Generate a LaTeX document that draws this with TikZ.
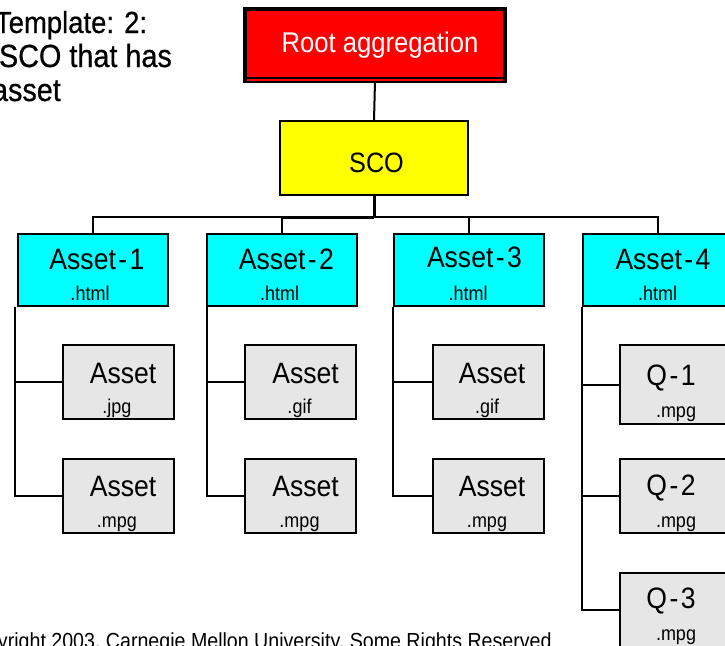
\documentclass[tikz,border=0pt]{standalone}
\usepackage{fontspec}
\setmainfont{Liberation Sans}[FakeStretch=0.9]
\newfontfamily\titlefam{Liberation Sans}[FakeStretch=0.9,FakeBold=0.6]
\newcommand\myfs[1]{\fontsize{#1pt}{#1pt}\selectfont}
\definecolor{boxgrey}{HTML}{E6E6E6}
\definecolor{boxcyan}{HTML}{00FFFF}
\definecolor{boxyellow}{HTML}{FFFF00}
\definecolor{boxred}{HTML}{FF0000}
\begin{document}
\begin{tikzpicture}[x=1pt,y=-1pt,line width=2pt,
  boxbase/.style={draw=black,line width=2pt,inner sep=0pt,outer sep=0pt},
  rootbox/.style={boxbase,fill=boxred,line width=4pt,minimum width=260pt,minimum height=72pt},
  scobox/.style={boxbase,fill=boxyellow,minimum width=188pt,minimum height=74pt},
  assetbox/.style={boxbase,fill=boxcyan,minimum width=150pt,minimum height=72pt},
  childbox/.style={boxbase,fill=boxgrey,minimum width=111pt,minimum height=74pt},
  lbl/.style={inner sep=0pt,outer sep=0pt,anchor=base},
  big/.style={lbl,font=\myfs{29.5}},
  small/.style={lbl,font=\myfs{20}},
  title/.style={inner sep=0pt,outer sep=0pt,anchor=base west,font=\titlefam\myfs{32}},
  conn/.style={line width=2pt},
  thickconn/.style={line width=3pt}]
\useasboundingbox (0,0) rectangle (725,645);
\clip (0,0) rectangle (725,645);

% title
\node[title,font=\titlefam\myfs{30.5}] (t1) at (-5,33) {Template: 2:};
\node[title] (t2) at (-1,67) {SCO that has};
\node[title] (t3) at (-8,101) {asset};

% root
\node[rootbox] (root) at (375,45) {};
\draw[line width=2pt] ([xshift=2pt,yshift=3pt]root.south west) -- ([xshift=-2pt,yshift=3pt]root.south east);
\draw[boxred,line width=1.8pt] ([xshift=2pt,yshift=0.7pt]root.south west) -- ([xshift=-2pt,yshift=0.7pt]root.south east);
\node[lbl,white,font=\myfs{28.5}] (roott) at (380,52) {Root aggregation};

% SCO
\node[scobox] (sco) at (374,158) {};
\node[lbl,font=\myfs{28}] (scot) at (376.5,172) {SCO};

% assets
\node[assetbox] (a1) at (93,270) {};
\node[assetbox] (a2) at (281.5,270) {};
\node[assetbox] (a3) at (469,270) {};
\node[assetbox] (a4) at (658,270) {};
\node[big] (a1t) at (97,269) {Asset\kern2.5pt-\kern2.5pt1};
\node[big] (a2t) at (286.5,269) {Asset\kern2.5pt-\kern2.5pt2};
\node[big] (a3t) at (474.5,267) {Asset\kern2.5pt-\kern2.5pt3};
\node[big] (a4t) at (663,269) {Asset\kern2.5pt-\kern2.5pt4};
\node[small] (a1s) at (90,300) {.html};
\node[small] (a2s) at (279.5,300) {.html};
\node[small] (a3s) at (468,300) {.html};
\node[small] (a4s) at (657.5,300) {.html};

% children column 1
\node[childbox] (c11) at (118,382) {};
\node[childbox] (c12) at (118,496) {};
\node[big] (c11t) at (123,383) {Asset};
\node[small] (c11s) at (117,413) {.jpg};
\node[big] (c12t) at (123,496) {Asset};
\node[small] (c12s) at (117,527) {.mpg};
% column 2
\node[childbox] (c21) at (300.5,382) {};
\node[childbox] (c22) at (300.5,496) {};
\node[big] (c21t) at (305.5,383) {Asset};
\node[small] (c21s) at (299.5,413) {.gif};
\node[big] (c22t) at (305.5,496) {Asset};
\node[small] (c22s) at (299.5,527) {.mpg};
% column 3
\node[childbox] (c31) at (488,382) {};
\node[childbox] (c32) at (488,496) {};
\node[big] (c31t) at (492,383) {Asset};
\node[small] (c31s) at (487,413) {.gif};
\node[big] (c32t) at (492,496) {Asset};
\node[small] (c32s) at (487,527) {.mpg};
% column 4
\node[childbox,minimum height=79pt] (c41) at (675,384.5) {};
\node[childbox] (c42) at (675,496) {};
\node[childbox] (c43) at (675,610) {};
\node[big] (c41t) at (671,385) {Q\kern2.5pt-\kern2.5pt1};
\node[small] (c41s) at (676,417) {.mpg};
\node[big] (c42t) at (671,495) {Q\kern2.5pt-\kern2.5pt2};
\node[small] (c42s) at (676,527) {.mpg};
\node[big] (c43t) at (671,608) {Q\kern2.5pt-\kern2.5pt3};
\node[small] (c43s) at (676,640) {.mpg};

% copyright
\node[lbl,anchor=base west,font=\myfs{21.8}] (copy) at (-2,648) {yright 2003, Carnegie Mellon University, Some Rights Reserved};

% connectors
\coordinate (bus) at (374,217);
\draw[conn] (root.south) -- (sco.north);
\draw[thickconn] (sco.south) -- (sco.south |- bus);
\draw[conn] (a1.north) -- (a1.north |- bus) -- (a4.north |- bus) -- (a4.north);
\draw[thickconn] (a2.north |- bus) -- (sco.south |- bus);
\draw[conn] (a2.north) -- (a2.north |- bus);
\draw[conn] (a3.north) -- (a3.north |- bus);

\coordinate (s1) at (15,307);
\coordinate (s2) at (207,307);
\coordinate (s3) at (393,307);
\coordinate (s4) at (582,307);
\draw[conn] (s1) |- (c12.west);
\draw[conn] (c11.west) -- (c11.west -| s1);
\draw[conn] (s2) |- (c22.west);
\draw[conn] (c21.west) -- (c21.west -| s2);
\draw[conn] (s3) |- (c32.west);
\draw[conn] (c31.west) -- (c31.west -| s3);
\draw[conn] (s4) |- (c43.west);
\draw[conn] (c41.west) -- (c41.west -| s4);
\draw[conn] (c42.west) -- (c42.west -| s4);
\end{tikzpicture}
\end{document}
